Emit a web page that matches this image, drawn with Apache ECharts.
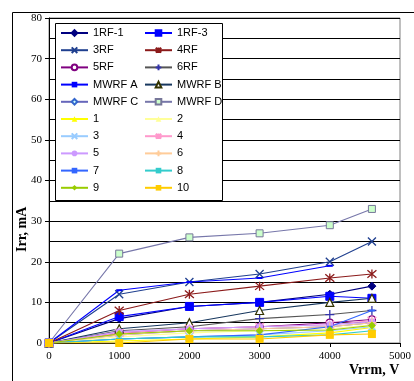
<!DOCTYPE html>
<html>
<head>
<meta charset="utf-8">
<script src="https://cdn.jsdelivr.net/npm/echarts@6/dist/echarts.min.js"></script>
<style>
html,body{margin:0;padding:0;background:#fff;}
#chart{width:414px;height:381px;}
</style>
</head>
<body>
<div id="chart"></div>
<script>
// Reverse voltage steps (V)
const voltages = [0, 1000, 2000, 3000, 4000, 4600];

// Reverse recovery current (mA) per sample
const s1RF1  = [0, 6, 9, 10, 12, 14];
const s1RF3  = [0, 6.5, 9, 10, 11.5, 11];
const s3RF   = [0, 12, 15, 17, 20, 25];
const s4RF   = [0, 8, 12, 14, 16, 17];
const s5RF   = [0, 2.5, 3.5, 4, 5, 5.8];
const s6RF   = [0, 3, 4, 6, 7, 8];
const sMWRFA = [0, 13, 15, 16, 19];
const sMWRFB = [0, 3.5, 5, 8, 10, 11];
const sMWRFC = [0, 2, 3, 3.5, 4, 5];
const sMWRFD = [0, 22, 26, 27, 29, 33];
const n1  = [0, 0.5, 1, 1.5, 2.5, 3.8];
const n2  = [0, 1.5, 2.5, 3, 3.5, 4.5];
const n3  = [0, 1, 1.5, 2, 3, 4];
const n4  = [0, 2.5, 3.5, 4, 4.5, 5.5];
const n5  = [0, 2.8, 3.5, 4, 4.5, 5.2];
const n6  = [0, 2, 3, 3.5, 4, 5];
const n7  = [0, 1, 1.5, 2, 4, 8];
const n8  = [0, 1, 1.5, 1.5, 2, 3];
const n9  = [0, 2.2, 3, 3, 3.2, 4.3];
const n10 = [0, 0, 1, 1, 2, 2.2];

const xTicks = [0, 1000, 2000, 3000, 4000, 5000];
const yTicks = [0, 10, 20, 30, 40, 50, 60, 70, 80];

const CROSS = 'path://M0,0L10,10M10,0L0,10';
const STAR = 'path://M0,0L10,10M10,0L0,10M5,-1L5,11';
const PLUS = 'path://M5,0L5,10M0,5L10,5';

function mk(name, vals, lineColor, symbol, size, fill, border, bw) {
  return {
    name: name,
    type: 'line',
    data: vals.map((v, i) => [voltages[i], v]),
    symbol: symbol,
    symbolSize: size,
    showAllSymbol: true,
    lineStyle: { color: lineColor, width: 1.1 },
    itemStyle: { color: fill, borderColor: border, borderWidth: bw },
    emphasis: { disabled: true },
    animation: false
  };
}

const series = [
  mk('1RF-1', s1RF1, '#000080', 'diamond', 8, '#000080', '#000080', 1),
  mk('1RF-3', s1RF3, '#0000FF', 'rect', 8, '#0000FF', '#0000FF', 1),
  mk('3RF', s3RF, '#1F3F8F', CROSS, 8, 'none', '#1F3F8F', 1.3),
  mk('4RF', s4RF, '#8B1A1A', STAR, 9, 'none', '#8B1A1A', 1.3),
  mk('5RF', s5RF, '#800080', 'circle', 7, '#FFFFFF', '#800080', 1.2),
  mk('6RF', s6RF, '#555555', PLUS, 9, 'none', '#3333AA', 1.3),
  mk('MWRF A', sMWRFA, '#0000FF', 'rect', [6, 2], '#0000FF', '#0000FF', 0),
  mk('MWRF B', sMWRFB, '#17375E', 'triangle', 8, '#FFFFFF', '#333300', 1.2),
  mk('MWRF C', sMWRFC, '#6666BB', 'diamond', 7, '#CCFFFF', '#3366CC', 1),
  mk('MWRF D', sMWRFD, '#7777AA', 'rect', 7, '#CCFFCC', '#777799', 1),
  mk('1', n1, '#FFFF00', 'triangle', 8, '#FFFF00', '#FFFF00', 0),
  mk('2', n2, '#FFFF99', 'triangle', 8, '#FFFF99', '#FFFF99', 0),
  mk('3', n3, '#99CCFF', CROSS, 8, 'none', '#99CCFF', 1.3),
  mk('4', n4, '#FF99CC', STAR, 9, 'none', '#FF99CC', 1.3),
  mk('5', n5, '#CC99FF', 'circle', 7, '#CC99FF', '#CC99FF', 0),
  mk('6', n6, '#FFCC99', PLUS, 9, 'none', '#FFCC99', 1.3),
  mk('7', n7, '#3366FF', 'rect', [6, 2], '#3366FF', '#3366FF', 0),
  mk('8', n8, '#33CCCC', 'rect', [6, 2], '#33CCCC', '#33CCCC', 0),
  mk('9', n9, '#99CC00', 'diamond', 8, '#99CC00', '#99CC00', 0),
  mk('10', n10, '#FFCC00', 'rect', 8, '#FFCC00', '#FFCC00', 0)
];

const leftCol = ['1RF-1', '3RF', '5RF', 'MWRF A', 'MWRF C', '1', '3', '5', '7', '9'];
const rightCol = ['1RF-3', '4RF', '6RF', 'MWRF B', 'MWRF D', '2', '4', '6', '8', '10'];

const legendBase = {
  orient: 'vertical',
  top: 27,
  itemWidth: 27,
  itemHeight: 7,
  itemGap: 5.2,
  padding: 0,
  selectedMode: false,
  textStyle: { fontFamily: 'Liberation Sans, Arial', fontSize: 11, color: '#000', lineHeight: 12 }
};

const chart = echarts.init(document.getElementById('chart'), null, { renderer: 'canvas' });
chart.setOption({
  animation: false,
  backgroundColor: '#fff',
  grid: { left: 49, right: 10, top: 18, bottom: 38, show: true, borderColor: '#808080', borderWidth: 1, backgroundColor: 'transparent' },
  xAxis: {
    type: 'value', min: 0, max: 5000, interval: 1000,
    axisLine: { show: true, lineStyle: { color: '#000', width: 1 } },
    axisTick: { show: true, length: 4, lineStyle: { color: '#000' } },
    axisLabel: { color: '#000', fontFamily: 'Liberation Serif, Times New Roman', fontSize: 11, margin: 8,
      formatter: v => xTicks.includes(v) ? String(v) : '' },
    splitLine: { show: false }
  },
  yAxis: {
    type: 'value', min: 0, max: 80, interval: 10,
    axisLine: { show: true, lineStyle: { color: '#000', width: 1 } },
    axisTick: { show: true, length: 4, lineStyle: { color: '#000' } },
    axisLabel: { color: '#000', fontFamily: 'Liberation Serif, Times New Roman', fontSize: 11, margin: 7,
      formatter: v => yTicks.includes(v) ? String(v) : '' },
    splitLine: { show: true, lineStyle: { color: '#000', width: 1 } },
    minorTick: { show: false, splitNumber: 2 },
    minorSplitLine: { show: true, lineStyle: { color: '#000', width: 1 } }
  },
  legend: [
    Object.assign({}, legendBase, { left: 60, data: leftCol }),
    Object.assign({}, legendBase, { left: 144, data: rightCol })
  ],
  graphic: [
    { type: 'rect', left: 10, top: 10, shape: { width: 430, height: 400 }, style: { fill: 'none', stroke: '#000', lineWidth: 1 }, z: 100, silent: true },
    { type: 'rect', left: 55, top: 23, shape: { width: 167, height: 177 }, style: { fill: '#fff', stroke: '#000', lineWidth: 1 }, z: 1, silent: true },
    { type: 'text', left: 349, top: 363, style: { text: 'Vrrm, V', font: 'bold 14px Liberation Serif, Times New Roman', fill: '#000' }, z: 100 },
    { type: 'text', x: 15, y: 252, rotation: Math.PI / 2, style: { text: 'Irr, mA', font: 'bold 14px Liberation Serif, Times New Roman', fill: '#000' }, z: 100 }
  ],
  series: series
});
</script>
</body>
</html>
